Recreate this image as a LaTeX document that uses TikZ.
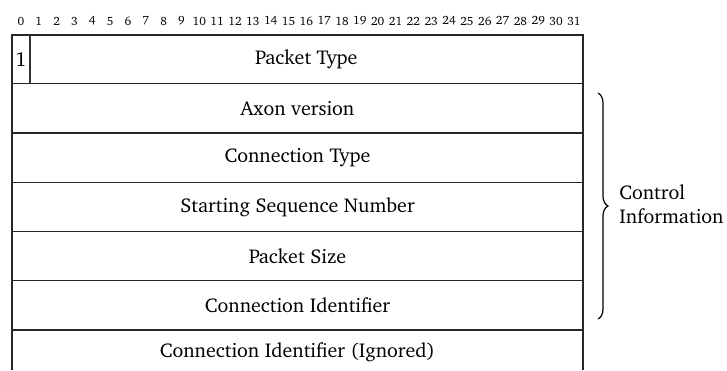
\documentclass[tikz,border=0pt]{standalone}
\usepackage[T1]{fontenc}
\usepackage{charter}
\usetikzlibrary{decorations.pathreplacing}

\tikzset{
    field/.style={font=\fontsize{10}{12}\selectfont, inner sep=0pt},
    bitnum/.style={font=\fontsize{6}{7}\selectfont, inner sep=0pt},
    rule/.style={line width=0.6pt, black!85}
}

\begin{document}
\begin{tikzpicture}[x=0.5pt, y=-0.5pt]
                \useasboundingbox (0,0) rectangle (727,370);
                % bit positions
                \foreach \i in {0,...,31} {
                    \node[bitnum] (bit\i) at ({12+17.84*(\i+0.5)},21) {\i};
                }
                % rows of the header
                \draw[rule] (12,370) -- (12,35) -- (583,35) -- (583,370);
                \foreach \y in {83.5,133,182.5,231.5,280.5,330} {
                    \draw[rule] (12,\y) -- (583,\y);
                }
                \draw[line width=0.9pt, black!80] (29.8,35) -- (29.8,83.5);
                \node[field] (flag) at (20.9,59.3) {1};
                \node[field] (ptype) at (306.4,59.3) {Packet Type};
                \node[field] (axon) at (297.5,108.3) {Axon version};
                \node[field] (ctype) at (297.5,157.8) {Connection Type};
                \node[field] (seqnum) at (297.5,207) {Starting Sequence Number};
                \node[field] (psize) at (297.5,256) {Packet Size};
                \node[field] (connid) at (297.5,305.3) {Connection Identifier};
                \node[field] (ignored) at (297.5,352) {Connection Identifier (Ignored)};
                % control information brace
                \coordinate (bracetop) at (598,93);
                \coordinate (bracebot) at (598,319);
                \draw[line width=0.6pt, decorate, decoration={brace, amplitude=5pt}] (bracetop) -- (bracebot);
                \node[field, anchor=west, align=left] (ctrl) at (619,204) {Control\\Information};
\end{tikzpicture}
\end{document}
